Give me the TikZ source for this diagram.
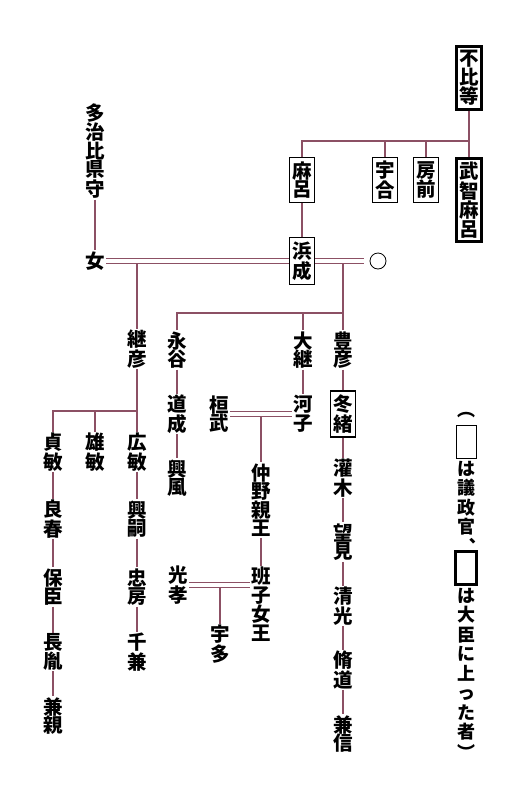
\documentclass[tikz,border=0pt]{standalone}
\usepackage{fontspec}
\newfontfamily\cjk{Noto Sans CJK JP}
\definecolor{lc}{RGB}{140,80,100}
\begin{document}
\begin{tikzpicture}[x=1pt,y=-1pt,
  t/.style={font=\cjk\bfseries\fontsize{19.5}{18.5}\selectfont, align=center, inner sep=1pt},
  lg/.style={font=\cjk\bfseries\fontsize{18}{19.5}\selectfont, align=center, inner sep=0pt},
  bx/.style={t, draw=black, line width=1.2pt, inner xsep=2.5pt, inner ysep=3.8pt},
  bbx/.style={t, draw=black, line width=3.2pt, inner xsep=3pt, inner ysep=3.5pt},
  ln/.style={draw=lc, line width=1.1pt},
  dl/.style={draw=lc, double=white, double distance=4.2pt, line width=1.1pt}]
\useasboundingbox[fill=white] (0,0) rectangle (526,796);

% --- top generation
\node[bbx] (fuhito) at (469,78) {不\\比\\等};
\node[bbx] (muchi) at (469,200) {武\\智\\麻\\呂};
\node[bx] (maro) at (302,180) {麻\\呂};
\node[bx] (umakai) at (385,180) {宇\\合};
\node[bx] (fusasaki) at (426,180) {房\\前};
\coordinate (top) at (469,141);
\draw[ln] (fuhito) -- (muchi);
\draw[ln] (maro.north) |- (top);
\draw[ln] (umakai.north) -- (umakai.north |- top);
\draw[ln] (fusasaki.north) -- (fusasaki.north |- top);

% --- Hamanari
\node[bx] (hamanari) at (302,261) {浜\\成};
\draw[ln] (maro) -- (hamanari);
\node[t] (agatamori) at (95,151) {多\\治\\比\\県\\守};
\node[t] (onna) at (95,261) {女};
\draw[ln] (agatamori) -- (onna);
\node[draw, line width=0.8pt, circle, minimum size=16pt, inner sep=0pt] (circ) at (378,261) {};

\coordinate (d1) at (137,261);
\coordinate (d2) at (343,261);
\coordinate (h2) at (343,313);
\coordinate (h3) at (137,411);

\node[t] (tsuguhiko) at (137,349) {継\\彦};
\node[t] (nagatani) at (177,350) {永\\谷};
\node[t] (otsugu) at (303,350) {大\\継};
\node[t] (toyohiko) at (343,350) {豊\\彦};
\draw[ln] (d1) -- (tsuguhiko);
\draw[ln] (d2) -- (h2);
\draw[ln] (nagatani.north) |- (h2) -- (toyohiko.north);
\draw[ln] (otsugu.north) -- (otsugu.north |- h2);

\draw[dl] (onna.east) -- (hamanari.west);
\draw[dl, shorten >=6pt] (hamanari.east) -- (circ.west);

% --- Tsuguhiko line
\node[t] (sadatoshi) at (53,452) {貞\\敏};
\node[t] (katsutoshi) at (95,452) {雄\\敏};
\node[t] (hirotoshi) at (137,452) {広\\敏};
\draw[ln] (tsuguhiko) -- (hirotoshi);
\draw[ln] (sadatoshi.north) |- (h3);
\draw[ln] (katsutoshi.north) -- (katsutoshi.north |- h3);

\node[t] (okitsugu) at (137,519) {興\\嗣};
\node[t] (tadafusa) at (137,587) {忠\\房};
\node[t] (chikane) at (137,652) {千\\兼};
\draw[ln] (hirotoshi) -- (okitsugu);
\draw[ln] (okitsugu) -- (tadafusa);
\draw[ln] (tadafusa) -- (chikane);

\node[t] (yoshiharu) at (53,519) {良\\春};
\node[t] (yasuomi) at (53,587) {保\\臣};
\node[t] (nagatane) at (53,652) {長\\胤};
\node[t] (kanechika) at (53,716) {兼\\親};
\draw[ln] (sadatoshi) -- (yoshiharu);
\draw[ln] (yoshiharu) -- (yasuomi);
\draw[ln] (yasuomi) -- (nagatane);
\draw[ln] (nagatane) -- (kanechika);

% --- Nagatani line
\node[t] (michinari) at (177,414) {道\\成};
\node[t] (okikaze) at (177,478) {興\\風};
\draw[ln] (nagatani) -- (michinari);
\draw[ln] (michinari) -- (okikaze);

% --- Otsugu line
\node[t] (kawako) at (303,414) {河\\子};
\node[t] (kanmu) at (219,414) {桓\\武};
\draw[ln] (otsugu) -- (kawako);
\coordinate (d3) at (261,414);
\node[t] (nakano) at (261,500) {仲\\野\\親\\王};
\draw[ln] (d3) -- (nakano);
\draw[dl] (kanmu.east) -- (kawako.west);
\node[t] (hanshi) at (261,604) {班\\子\\女\\王};
\draw[ln] (nakano) -- (hanshi);
\node[t] (koko) at (178,585) {光\\孝};
\coordinate (d4) at (220,585);
\node[t] (uda) at (220,644) {宇\\多};
\draw[ln] (d4) -- (uda);
\draw[dl] (koko.east) -- (koko.east -| hanshi.west);

% --- Toyohiko line
\node[bx] (fuyutsugu) at (343,414) {冬\\緒};
\node[t] (sosogi) at (343,478) {灌\\木};
\node[t] (mochimi) at (343,542) {望\\見};
\node[t] (kiyomitsu) at (343,606) {清\\光};
\node[t] (nagamichi) at (343,670) {脩\\道};
\node[t] (kanenobu) at (343,734) {兼\\信};
\draw[ln] (toyohiko) -- (fuyutsugu);
\draw[ln] (fuyutsugu) -- (sosogi);
\draw[ln] (sosogi) -- (mochimi);
\draw[ln] (mochimi) -- (kiyomitsu);
\draw[ln] (kiyomitsu) -- (nagamichi);
\draw[ln] (nagamichi) -- (kanenobu);

% --- legend
\node[lg] (lpar) at (466,415) {︵};
\node[draw=black, line width=1pt, minimum width=20pt, minimum height=33pt, inner sep=0pt] (lbox1) at (466,442) {};
\node[lg, anchor=north] (l1) at (466,461) {は\\議\\政\\官};
\node[lg] (lcomma) at (467,546) {︑};
\node[draw=black, line width=3pt, minimum width=21pt, minimum height=33pt, inner sep=0pt] (lbox2) at (466,568) {};
\node[lg, anchor=north] (l2) at (466,588) {は\\大\\臣\\に\\上\\っ\\た\\者};
\node[lg] (rpar) at (466,752) {︶};
\end{tikzpicture}
\end{document}
